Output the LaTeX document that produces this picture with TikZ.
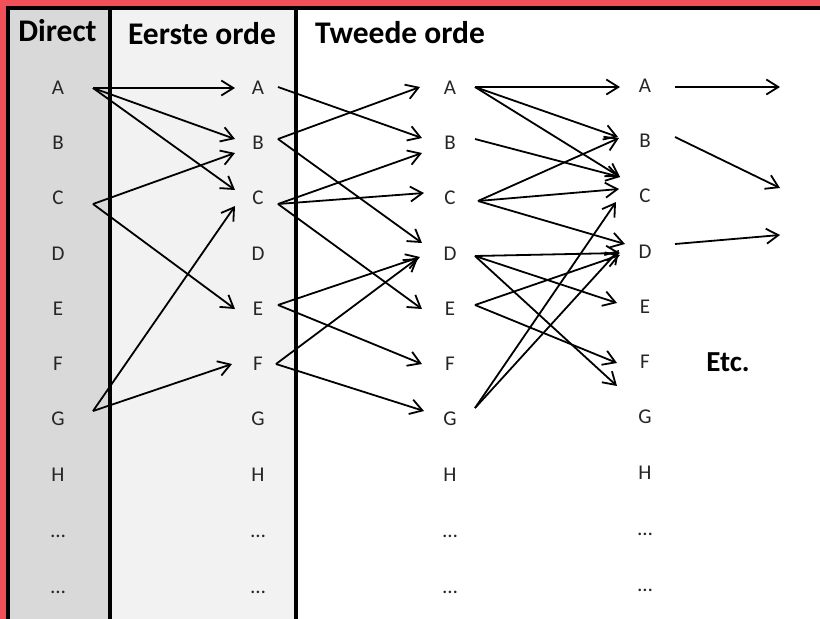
\documentclass[tikz,border=0pt]{standalone}
\usepackage{fontspec}
\setmainfont{Carlito}
\usetikzlibrary{arrows.meta,calc}
\definecolor{redband}{RGB}{240,80,90}
\definecolor{gDirect}{RGB}{217,217,217}
\definecolor{gEerste}{RGB}{242,242,242}
\tikzset{
  lbl/.style={font=\fontsize{21}{25}\selectfont, text=black!85, inner sep=0pt},
  hdr/.style={font=\fontsize{31.5}{38}\selectfont\bfseries, anchor=base, inner sep=0pt},
  arr/.style={line width=1.8pt, -{Straight Barb[length=12pt,width=15pt]}, line join=round},
  divider/.style={line width=4pt}
}
\newcommand\conn[6]{\draw[arr] ($(#1)+(#2,#3)$) -- ($(#4)+(#5,#6)$);}
\begin{document}
\begin{tikzpicture}[x=1pt,y=-1pt]
\useasboundingbox (0,0) rectangle (820,619);
\fill[white] (0,0) rectangle (820,619);
\fill[gDirect] (9,10) rectangle (109,619);
\fill[gEerste] (109,10) rectangle (295,619);
\fill[redband] (0,0) rectangle (820,6.5);
\fill[redband] (0,0) rectangle (6,619);
\draw[divider] (6,8.3) -- (820,8.3);
\draw[divider] (8,6.3) -- (8,619);
\draw[divider] (109.5,8.3) -- (109.5,619);
\draw[divider] (295.5,8.3) -- (295.5,619);

\node[hdr] (hd) at (57.5,41) {Direct};
\node[hdr] (he) at (202,44) {Eerste orde};
\node[hdr] (ht) at (400,43) {Tweede orde};

\foreach \c/\x/\dy in {1/58/0, 2/258/0, 3/450/0, 4/645/-2} {
  \foreach \L/\y in {A/88,B/143,C/198,D/254,E/309,F/364,G/419,H/475}
    \node[lbl] (\L\c) at (\x,\y+\dy) {\L};
  \node[lbl] (p\c) at (\x,536+\dy) {…};
  \node[lbl] (q\c) at (\x,592+\dy) {…};
}
\node[font=\fontsize{29}{34}\selectfont\bfseries, inner sep=0pt] (etc) at (728,362) {Etc.};

% Direct -> Eerste orde
\conn{A1}{35}{0}{A2}{-23}{0}
\conn{A1}{35}{0}{B2}{-23}{-4}
\conn{A1}{35}{0}{C2}{-23}{-8}
\conn{C1}{35}{6}{B2}{-23}{10}
\conn{C1}{35}{6}{E2}{-23}{0}
\conn{G1}{35}{-8}{C2}{-23}{8}
\conn{G1}{35}{-8}{F2}{-26}{0}

% Eerste orde -> Tweede orde
\conn{A2}{20}{-1}{B3}{-28}{-5}
\conn{B2}{20}{-4}{A3}{-30}{-1}
\conn{B2}{20}{-4}{D3}{-28}{-11}
\conn{C2}{20}{6}{B3}{-28}{10}
\conn{C2}{20}{6}{C3}{-26}{-5}
\conn{C2}{20}{6}{E3}{-28}{0}
\conn{E2}{20}{-4}{D3}{-30}{3}
\conn{E2}{20}{-4}{F3}{-28}{0}
\conn{F2}{18}{0}{D3}{-32}{4}
\conn{F2}{18}{0}{G3}{-26}{-8}

% Tweede orde -> next
\conn{A3}{25}{-1}{A4}{-25}{1}
\conn{A3}{25}{-1}{B4}{-27}{-4}
\conn{A3}{25}{-1}{C4}{-25}{-19}
\conn{B3}{25}{-4}{C4}{-25}{-19}
\conn{C3}{28}{3}{B4}{-26}{-3}
\conn{C3}{28}{3}{C4}{-26}{-7}
\conn{C3}{28}{3}{D4}{-20}{-8}
\conn{D3}{25}{2}{D4}{-25}{1}
\conn{D3}{25}{2}{E4}{-28}{-4}
\conn{D3}{25}{2}{F4}{-28}{24}
\conn{E3}{25}{-4}{D4}{-25}{3}
\conn{E3}{25}{-4}{F4}{-28}{1}
\conn{G3}{25}{-11}{C4}{-29}{6}
\conn{G3}{25}{-11}{D4}{-26}{-2}

% onwards
\coordinate (oA) at (780,87);
\coordinate (oB) at (780,188);
\coordinate (oD) at (780,235);
\draw[arr] ($(A4)+(30,1)$) -- (oA);
\draw[arr] ($(B4)+(30,-4)$) -- (oB);
\draw[arr] ($(D4)+(30,-8)$) -- (oD);
\end{tikzpicture}
\end{document}
